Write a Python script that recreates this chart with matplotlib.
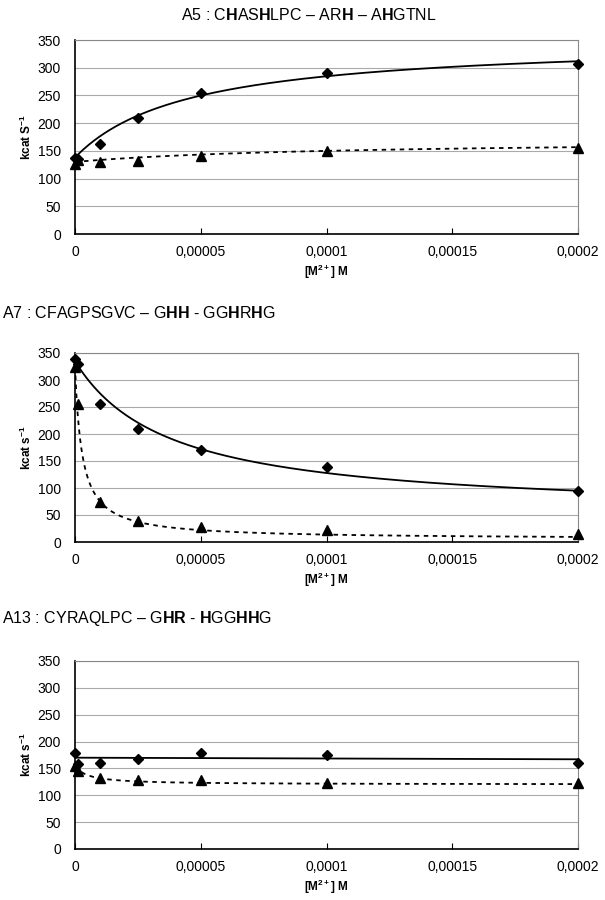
import numpy as np
import matplotlib
matplotlib.use('Agg')
import matplotlib.pyplot as plt

plt.rcParams['font.family'] = ['Liberation Sans', 'DejaVu Sans']
plt.rcParams['mathtext.fontset'] = 'custom'
plt.rcParams['mathtext.rm'] = 'Liberation Sans'
plt.rcParams['mathtext.bf'] = 'Liberation Sans:bold'
plt.rcParams['mathtext.it'] = 'Liberation Sans:italic'

# metal concentration (M)
conc = [0, 0.000001, 0.00001, 0.000025, 0.00005, 0.0001, 0.0002]

# A5
a5_diam = [138, 135, 162, 209, 255, 290, 307]
a5_tri = [127, 133, 130, 132, 140, 150, 155]
# A7
a7_diam = [338, 330, 255, 210, 170, 138, 95]
a7_tri = [325, 255, 75, 38, 28, 22, 15]
# A13
a13_diam = [178, 158, 160, 168, 178, 175, 160]
a13_tri = [155, 145, 132, 128, 128, 123, 122]

# trendline params (y at 0, y at infinity, K)
a5_fit_solid = (138, 351, 0.0000453)
a5_fit_dot = (130, 170, 0.0001)
a7_fit_solid = (335, 50, 0.0000375)
a7_fit_dot = (325, 5, 0.0000028)
a13_fit_solid = (170, 167)   # straight line, start / end
a13_fit_dot = (155, 120, 0.000005)

titles = [r'A5 : C$\mathbf{H}$AS$\mathbf{H}$LPC – AR$\mathbf{H}$ – A$\mathbf{H}$GTNL',
          r'A7 : CFAGPSGVC – G$\mathbf{HH}$ - GG$\mathbf{H}$R$\mathbf{H}$G',
          r'A13 : CYRAQLPC – G$\mathbf{HR}$ - $\mathbf{H}$GG$\mathbf{HH}$G']
ylabels = [r'kcat S$^{\mathbf{-1}}$', r'kcat s$^{\mathbf{-1}}$', r'kcat s$^{\mathbf{-1}}$']
xticks = [0, 0.00005, 0.0001, 0.00015, 0.0002]
xticklabels = ['0', '0,00005', '0,0001', '0,00015', '0,0002']


def hyper(x, y0, yinf, k):
    return yinf + (y0 - yinf) * k / (k + x)


xx = np.linspace(0, 0.0002, 400)

fig = plt.figure(figsize=(6.05, 9), dpi=100)

# axes boxes in pixels (top, bottom)
boxes = [(40, 234), (353, 542), (661, 849)]
left, right = 75, 578

data = [(a5_diam, a5_tri, hyper(xx, *a5_fit_solid), hyper(xx, *a5_fit_dot)),
        (a7_diam, a7_tri, hyper(xx, *a7_fit_solid), hyper(xx, *a7_fit_dot)),
        (a13_diam, a13_tri, np.linspace(a13_fit_solid[0], a13_fit_solid[1], len(xx)),
         hyper(xx, *a13_fit_dot))]

for i in range(3):
    top, bot = boxes[i]
    ax = fig.add_axes([left / 605, 1 - bot / 900, (right - left) / 605, (bot - top) / 900])
    d, t, ys, yd = data[i]
    ax.plot(xx, ys, color='black', lw=1.3, zorder=3)
    ax.plot(xx, yd, color='black', lw=1.3, ls=(0, (2.5, 2.5)), zorder=3)
    ax.plot(conc, d, 'D', color='black', ms=5.5, clip_on=False, zorder=4)
    ax.plot(conc, t, '^', color='black', ms=7, clip_on=False, zorder=4)
    ax.set_xlim(0, 0.0002)
    ax.set_ylim(0, 350)
    ax.set_yticks(range(0, 351, 50))
    ax.set_xticks(xticks)
    ax.set_xticklabels(xticklabels)
    ax.yaxis.grid(True, color='#aaaaaa', lw=0.8)
    ax.set_axisbelow(True)
    for s in ['top', 'right']:
        ax.spines[s].set_color('#888888')
        ax.spines[s].set_linewidth(0.8)
    for s in ['left', 'bottom']:
        ax.spines[s].set_linewidth(1.2)
    ax.tick_params(axis='x', direction='in', length=4, pad=8, labelsize=10)
    ax.tick_params(axis='y', length=0, pad=10, labelsize=10)
    ax.set_ylabel(ylabels[i], fontsize=8.5, fontweight='bold', labelpad=3)
    ax.set_xlabel(r'[M$^{\mathbf{2+}}$] M', fontsize=8.5, fontweight='bold', labelpad=3)

fig.text(0.51, 1 - 15 / 900, titles[0], ha='center', va='center', fontsize=11.5)
fig.text(2 / 605, 1 - 313 / 900, titles[1], ha='left', va='center', fontsize=11.5)
fig.text(2 / 605, 1 - 618 / 900, titles[2], ha='left', va='center', fontsize=11.5)

fig.savefig('out.png', dpi=100)
